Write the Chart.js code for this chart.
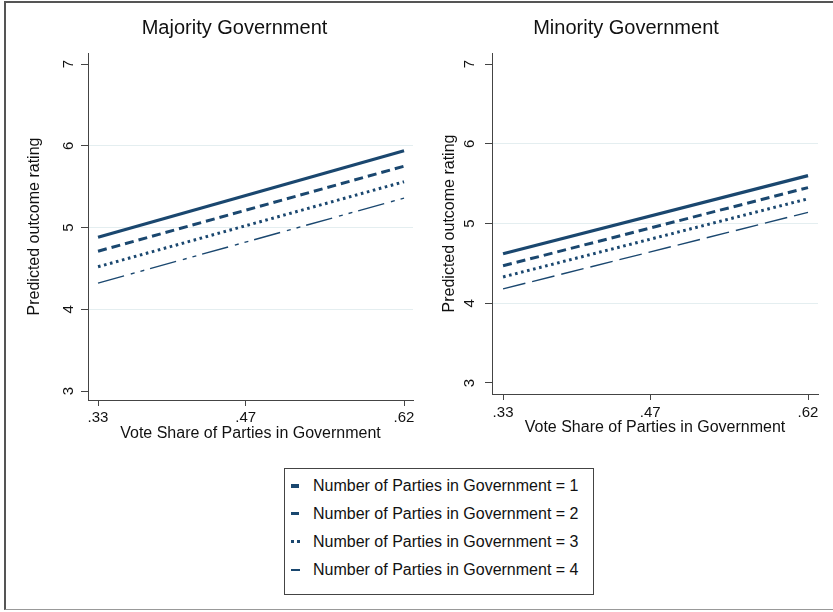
<!DOCTYPE html>
<html>
<head>
<meta charset="utf-8">
<script src="https://cdn.jsdelivr.net/npm/chart.js@4.4.1/dist/chart.umd.min.js"></script>
<style>
  html, body { margin: 0; padding: 0; background: #fff; overflow: hidden; }
  body { width: 833px; height: 612px; position: relative; font-family: "Liberation Sans", Arial, sans-serif; }
  #frame { position: absolute; left: 4px; top: 1px; width: 840px; height: 609px; box-sizing: border-box;
           border-top: 2px solid #555; border-left: 2px solid #555; border-bottom: 1px solid #999; }
  canvas { position: absolute; top: 0; }
  #leftChart { left: 0; }
  #rightChart { left: 420px; }
  #legend { position: absolute; left: 284px; top: 468px; width: 310px; height: 127px; box-sizing: border-box;
            border: 1px solid #444; padding-top: 3px; }
  .row { height: 28px; line-height: 28px; font-size: 16px; color: #111; position: relative; padding-left: 28px; white-space: nowrap; }
  .sym { position: absolute; left: 6px; top: 50%; }
</style>
</head>
<body>
<div id="frame"></div>
<canvas id="leftChart" width="420" height="450"></canvas>
<canvas id="rightChart" width="413" height="450"></canvas>
<div id="legend"></div>
<script>
// x positions of the predictions and the axis ticks
const xValues = [0.33, 0.62];
const xTicks = [0.33, 0.47, 0.62];
const yTicks = [3, 4, 5, 6, 7];

const seriesNames = [
    'Number of Parties in Government = 1',
    'Number of Parties in Government = 2',
    'Number of Parties in Government = 3',
    'Number of Parties in Government = 4'
];

// Predicted outcome rating, majority government
const majority1 = [4.88, 5.94];
const majority2 = [4.71, 5.75];
const majority3 = [4.52, 5.56];
const majority4 = [4.32, 5.36];

// Predicted outcome rating, minority government
const minority1 = [4.62, 5.60];
const minority2 = [4.47, 5.45];
const minority3 = [4.33, 5.31];
const minority4 = [4.18, 5.14];

const navy = '#1a476f';
const font = '"Liberation Sans", Arial, sans-serif';

// line styles per series (width, dash)
const lineWidths = [3.2, 3, 3, 1.4];
const dashesLeft = [[], [9, 5], [2.6, 3.6], [27, 7, 4, 6, 4, 6]];
const dashesRight = [[], [9, 5], [2.6, 3.6], [23, 7]];

function makeDatasets(series, dashes) {
    return series.map((vals, i) => ({
        label: seriesNames[i],
        data: xValues.map((x, j) => ({ x: x, y: vals[j] })),
        borderColor: navy,
        borderWidth: lineWidths[i],
        borderDash: dashes[i],
        borderCapStyle: 'butt',
        pointRadius: 0,
        fill: false,
        tension: 0
    }));
}

function panelOptions(p) {
    return {
        responsive: false,
        animation: false,
        events: [],
        layout: { padding: { left: p.padLeft, right: p.padRight, top: 0, bottom: p.padBottom } },
        plugins: {
            legend: { display: false },
            tooltip: { enabled: false },
            title: {
                display: true,
                text: p.title,
                color: '#111',
                font: { family: font, size: 20, weight: 'normal' },
                padding: { top: 16, bottom: 13 }
            }
        },
        scales: {
            x: {
                type: 'linear',
                min: p.xMin,
                max: p.xMax,
                afterBuildTicks: s => { s.ticks = xTicks.map(v => ({ value: v })); },
                afterFit: s => { s.height = 43; },
                ticks: {
                    color: '#111',
                    font: { family: font, size: 15 },
                    padding: p.xPad,
                    autoSkip: false,
                    maxRotation: 0,
                    callback: v => String(v).replace(/^0/, '')
                },
                grid: { drawOnChartArea: false, tickLength: 6, tickColor: '#444' },
                border: { color: '#444', width: 1 },
                title: {
                    display: true,
                    text: 'Vote Share of Parties in Government',
                    color: '#111',
                    font: { family: font, size: 16 },
                    padding: 0
                }
            },
            y: {
                type: 'linear',
                min: p.yMin,
                max: p.yMax,
                afterBuildTicks: s => { s.ticks = yTicks.map(v => ({ value: v })); },
                afterFit: s => { s.width = p.yWidth; },
                ticks: {
                    color: '#111',
                    font: { family: font, size: 15 },
                    padding: p.yPad,
                    autoSkip: false,
                    minRotation: 90,
                    maxRotation: 90,
                    crossAlign: 'center'
                },
                grid: {
                    color: c => (c.tick && (c.tick.value === 3 || c.tick.value === 7)) ? 'rgba(0,0,0,0)' : '#e4eef0',
                    tickColor: '#444',
                    tickLength: 7
                },
                border: { color: '#444', width: 1 },
                title: {
                    display: true,
                    text: 'Predicted outcome rating',
                    color: '#111',
                    font: { family: font, size: 16 },
                    padding: { top: p.yTitlePad, bottom: 0 }
                }
            }
        }
    };
}

new Chart(document.getElementById('leftChart'), {
    type: 'line',
    data: { datasets: makeDatasets([majority1, majority2, majority3, majority4], dashesLeft) },
    options: panelOptions({
        title: 'Majority Government',
        padLeft: 56, padRight: 7, padBottom: 7,
        yWidth: 32, yPad: 8, yTitlePad: -30.6, xPad: 3,
        xMin: 0.3205, xMax: 0.6285, yMin: 2.89, yMax: 7.135
    })
});

new Chart(document.getElementById('rightChart'), {
    type: 'line',
    data: { datasets: makeDatasets([minority1, minority2, minority3, minority4], dashesRight) },
    options: panelOptions({
        title: 'Minority Government',
        padLeft: 14, padRight: 15, padBottom: 13,
        yWidth: 58, yPad: 11, yTitlePad: 6.4, xPad: 4,
        xMin: 0.3195, xMax: 0.6295, yMin: 2.862, yMax: 7.138
    })
});

// Shared legend below both panels
const legendSymbols = [
    '<span class="sym" style="width:8px;height:3.5px;margin-top:-2px;background:' + navy + '"></span>',
    '<span class="sym" style="width:8px;height:3px;margin-top:-2px;background:' + navy + '"></span>',
    '<span class="sym" style="width:9px;height:3px;margin-top:-2px;background:linear-gradient(90deg,' + navy + ' 0 2.6px,transparent 2.6px 6px,' + navy + ' 6px 8.6px,transparent 8.6px)"></span>',
    '<span class="sym" style="width:9px;height:1.5px;margin-top:-1px;background:' + navy + '"></span>'
];
document.getElementById('legend').innerHTML = seriesNames
    .map((name, i) => '<div class="row">' + legendSymbols[i] + name + '</div>')
    .join('');
</script>
</body>
</html>
